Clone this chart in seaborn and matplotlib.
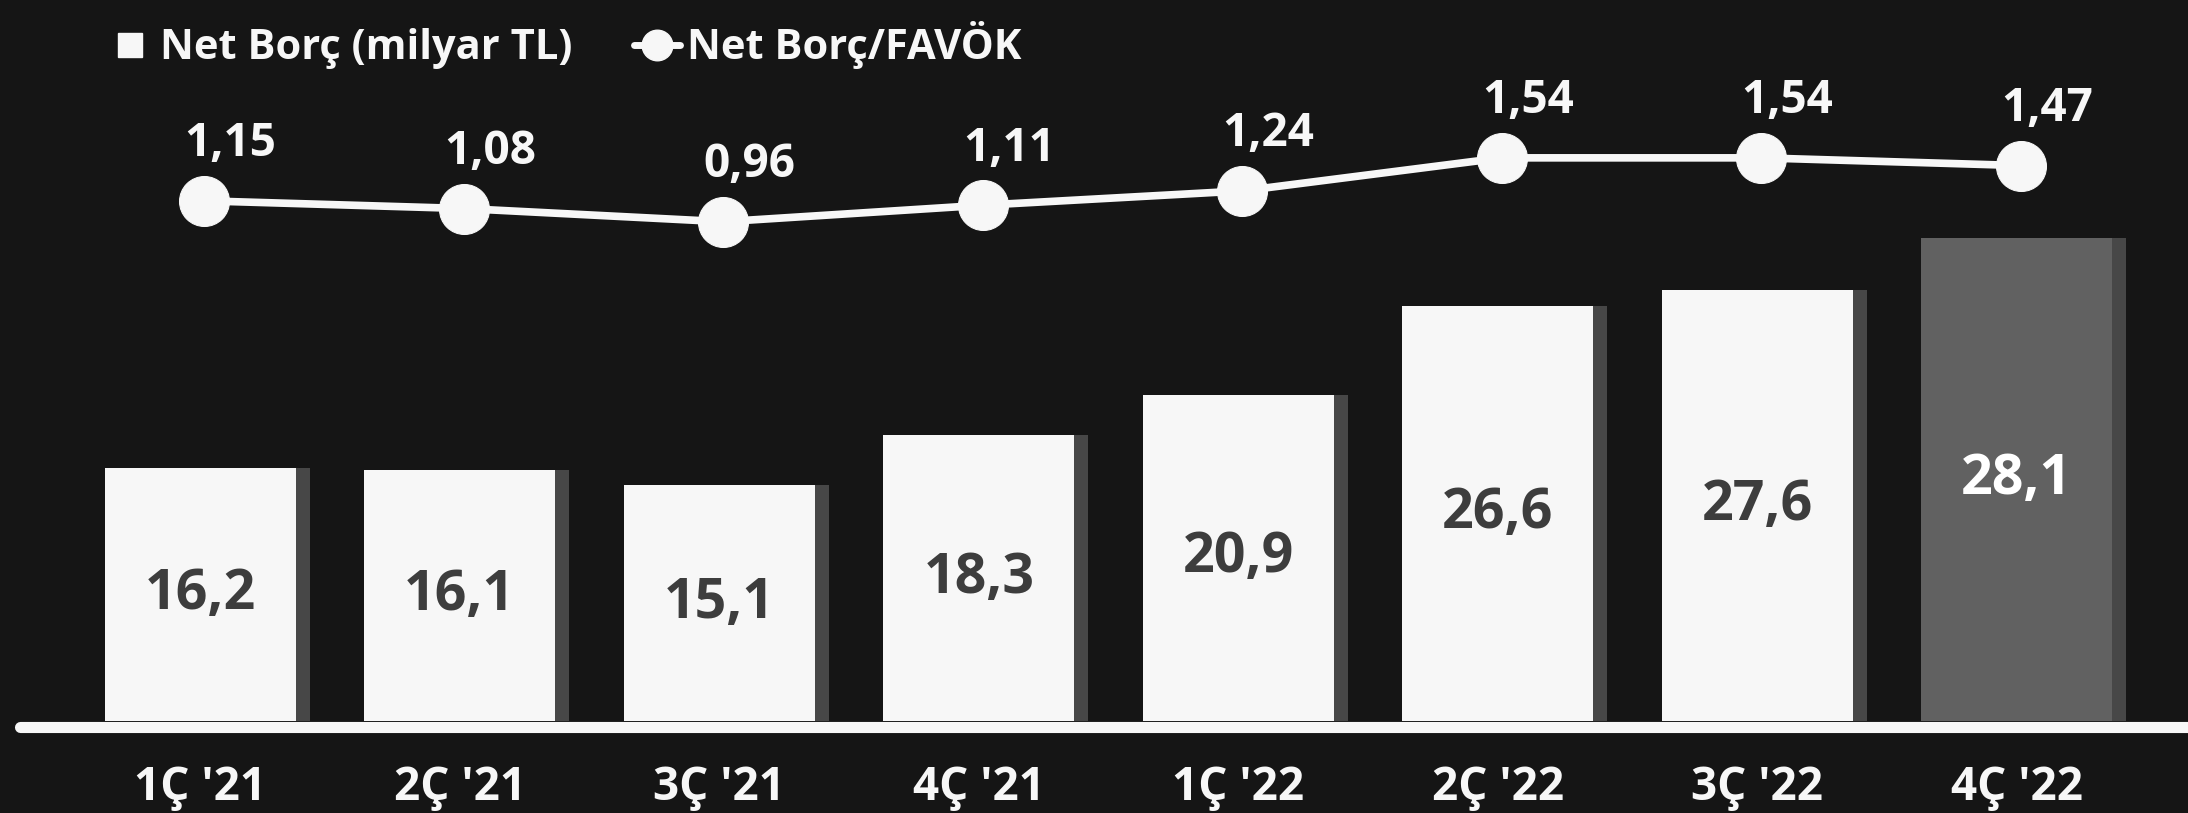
import matplotlib
matplotlib.use("Agg")
import matplotlib.pyplot as plt
import seaborn as sns
import numpy as np
from matplotlib.lines import Line2D

# data
quarters = ["1Ç '21", "2Ç '21", "3Ç '21", "4Ç '21", "1Ç '22", "2Ç '22", "3Ç '22", "4Ç '22"]
net_debt = [16.2, 16.1, 15.1, 18.3, 20.9, 26.6, 27.6, 28.1]
# heights as drawn in the picture (last bar is drawn taller than its label)
bar_heights = [16.2, 16.1, 15.1, 18.3, 20.9, 26.6, 27.6, 30.9]
net_debt_ebitda = [1.15, 1.08, 0.96, 1.11, 1.24, 1.54, 1.54, 1.47]

bg = "#151515"
white = "#f7f7f7"
shadow = "#474747"
last_bar = "#616161"
label_dark = "#3d3d3d"

sns.set_theme(style="dark")
plt.rcParams["font.family"] = ["Open Sans", "DejaVu Sans"]

fig = plt.figure(figsize=(21.88, 8.13), dpi=100, facecolor=bg)
ax = fig.add_axes([0, 66 / 583, 1, 517 / 583])
ax.set_facecolor(bg)

colors = [white] * 7 + [last_bar]
x = np.arange(len(quarters))

# right-hand shadow strip of each bar
ax.bar(x + 0.395, bar_heights, width=0.054, color=shadow, linewidth=0, zorder=1)
sns.barplot(x=quarters, y=bar_heights, hue=quarters, palette=colors, legend=False,
            width=0.737, saturation=1, linewidth=0, ax=ax, zorder=2)

for i, (h, v) in enumerate(zip(bar_heights, net_debt)):
    c = "white" if i == len(quarters) - 1 else label_dark
    ax.text(i, h / 2, f"{v:.1f}".replace(".", ","), ha="center", va="center",
            fontsize=40, fontweight="bold", color=c, zorder=3)

# baseline
ax.plot([-0.696, 7.7], [-0.4, -0.4], color=white, lw=8, solid_capstyle="round",
        clip_on=False, zorder=4)

ax.set_xlim(-0.772, 7.66)
ax.set_ylim(0, 46.16)
ax.set_yticks([])
ax.set_xlabel("")
ax.set_ylabel("")
ax.tick_params(axis="x", length=0, pad=31, labelsize=33, labelcolor=white)
for t in ax.get_xticklabels():
    t.set_fontweight("bold")
for s in ax.spines.values():
    s.set_visible(False)
ax.grid(False)

# ratio line on a twin axis
ax2 = ax.twinx()
sns.lineplot(x=x + 0.015, y=net_debt_ebitda, ax=ax2, color=white, lw=5.5,
             marker="o", markersize=36, markeredgecolor=white, zorder=5)
for xi, v in zip(x + 0.015, net_debt_ebitda):
    ax2.annotate(f"{v:.2f}".replace(".", ","), (xi, v), xytext=(-14, 41),
                 textcoords="offset points", ha="left", va="center",
                 fontsize=33, fontweight="bold", color=white)
ax2.set_ylim(-3.572, 2.973)
ax2.set_yticks([])
ax2.grid(False)
for s in ax2.spines.values():
    s.set_visible(False)

handles = [
    Line2D([], [], marker="s", ls="none", color=white, markersize=17),
    Line2D([], [], marker="o", color=white, lw=5, markersize=22),
]
leg = fig.legend(handles, ["Net Borç (milyar TL)", "Net Borç/FAVÖK"], ncol=2,
                 loc="upper left", bbox_to_anchor=(0.032, 1.02), frameon=False,
                 handlelength=1.1, handletextpad=0.15, columnspacing=1.5,
                 prop={"size": 30, "weight": "bold"})
for t in leg.get_texts():
    t.set_color(white)

fig.savefig("out.png", dpi=100, facecolor=bg)
